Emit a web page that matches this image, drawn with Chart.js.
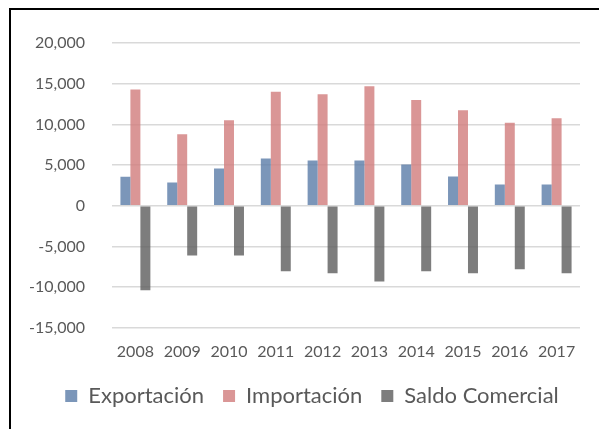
<!DOCTYPE html>
<html>
<head>
<meta charset="utf-8">
<script src="https://cdn.jsdelivr.net/npm/chart.js@4/dist/chart.umd.min.js"></script>
<style>
  html, body { margin: 0; padding: 0; background: #fff; }
  #wrap { position: relative; width: 599px; height: 429px; overflow: hidden; background: #fff; }
  #frame { position: absolute; left: 9px; top: 8px; width: 640px; height: 480px; border-top: 2px solid #000; border-left: 2px solid #000; pointer-events: none; }
  canvas { position: absolute; left: 0; top: 0; }
</style>
</head>
<body>
<div id="wrap">
  <canvas id="c" width="599" height="429"></canvas>
  <div id="frame"></div>
</div>
<script>
const categories = ['2008','2009','2010','2011','2012','2013','2014','2015','2016','2017'];
const exportacion = [3550, 2850, 4570, 5800, 5560, 5560, 5070, 3590, 2600, 2600];
const importacion = [14290, 8800, 10500, 14000, 13700, 14700, 13000, 11750, 10200, 10750];
const saldoComercial = [-10400, -6100, -6100, -8060, -8300, -9300, -8060, -8300, -7800, -8300];
const seriesNames = ['Exportación', 'Importación', 'Saldo Comercial'];
const yMin = -15000, yMax = 20000, yStep = 5000;

const textColor = '#595959';
const fontFamily = 'Lato, "Open Sans", sans-serif';

const legendShift = {
  id: 'legendShift',
  afterLayout(chart) {
    const l = chart.legend;
    if (!l) return;
    l.left += 22; l.right += 22;
    l.top -= 9; l.bottom -= 9;
  }
};

new Chart(document.getElementById('c'), {
  type: 'bar',
  data: {
    labels: categories,
    datasets: [
      { label: seriesNames[0], data: exportacion, backgroundColor: 'rgba(90,124,168,0.8)', borderWidth: 0 },
      { label: seriesNames[1], data: importacion, backgroundColor: 'rgba(209,124,124,0.8)', borderWidth: 0 },
      { label: seriesNames[2], data: saldoComercial, backgroundColor: 'rgba(92,92,92,0.8)', borderWidth: 0 }
    ]
  },
  plugins: [legendShift],
  options: {
    responsive: false,
    animation: false,
    events: [],
    layout: { padding: { left: 0, right: 19, top: 43, bottom: 3 } },
    datasets: { bar: { barPercentage: 1.0, categoryPercentage: 0.64 } },
    plugins: {
      tooltip: { enabled: false },
      legend: {
        position: 'bottom',
        labels: {
          color: textColor,
          font: { family: fontFamily, size: 22 },
          boxWidth: 12,
          boxHeight: 12,
          padding: 19
        }
      }
    },
    scales: {
      x: {
        grid: { display: false, drawTicks: false },
        border: { display: false },
        ticks: { color: textColor, font: { family: fontFamily, size: 16 }, padding: 14 }
      },
      y: {
        min: yMin,
        max: yMax,
        afterFit: (s) => { s.width = 112; },
        grid: { color: '#d9d9d9', lineWidth: 1.5, drawTicks: false },
        border: { display: false },
        ticks: {
          stepSize: yStep,
          padding: 27,
          color: textColor,
          font: { family: fontFamily, size: 16 },
          callback: (v) => Number(v).toLocaleString('en-US')
        }
      }
    }
  }
});
</script>
</body>
</html>
